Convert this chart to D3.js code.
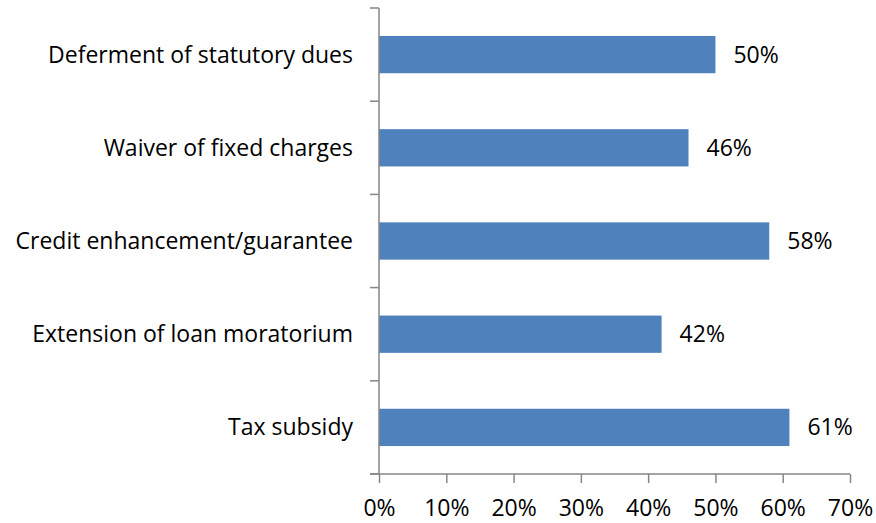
<!DOCTYPE html>
<html>
<head>
<meta charset="utf-8">
<script src="https://cdn.jsdelivr.net/npm/d3@7"></script>
<style>
  html, body { margin: 0; padding: 0; background: #fff; }
  svg { display: block; }
  text { font-family: "Open Sans", "Liberation Sans", sans-serif; fill: #000; }
</style>
</head>
<body>
<svg id="chart" width="876" height="523"></svg>
<script>
// Relief measures and share of respondents asking for each
const categories = [
  "Deferment of statutory dues",
  "Waiver of fixed charges",
  "Credit enhancement/guarantee",
  "Extension of loan moratorium",
  "Tax subsidy"
];
const values = [50, 46, 58, 42, 61];
const tickValues = [0, 10, 20, 30, 40, 50, 60, 70];

const svg = d3.select("#chart");
const margin = { left: 379, right: 26, top: 8, bottom: 49 };
const W = 876, H = 523;

const x = d3.scaleLinear().domain([0, 70]).range([margin.left, W - margin.right]);
const y = d3.scaleBand().domain(categories).range([margin.top, H - margin.bottom]).paddingInner(0.6).paddingOuter(0.3);
const band = d3.scaleBand().domain(categories).range([margin.top, H - margin.bottom]);

const axisColor = "#868686";
const fontSize = 23;

// bars
svg.append("g").selectAll("rect").data(categories).join("rect")
  .attr("x", x(0))
  .attr("y", d => y(d))
  .attr("width", (d, i) => x(values[i]) - x(0))
  .attr("height", y.bandwidth())
  .attr("fill", "#4F81BD");

// value labels
svg.append("g").selectAll("text").data(categories).join("text")
  .attr("x", (d, i) => x(values[i]) + 18)
  .attr("y", d => y(d) + y.bandwidth() / 2)
  .attr("dy", "0.35em")
  .style("font-size", fontSize + "px")
  .text((d, i) => values[i] + "%");

// category axis: vertical line with ticks at band boundaries
const yAxis = svg.append("g");
yAxis.append("line")
  .attr("x1", x(0)).attr("x2", x(0))
  .attr("y1", margin.top).attr("y2", H - margin.bottom)
  .attr("stroke", axisColor).attr("stroke-width", 1.5);
const boundaries = categories.map(c => band(c)).concat([H - margin.bottom]);
yAxis.selectAll("line.tick").data(boundaries).join("line")
  .attr("class", "tick")
  .attr("x1", x(0) - 9).attr("x2", x(0))
  .attr("y1", d => d).attr("y2", d => d)
  .attr("stroke", axisColor).attr("stroke-width", 1.5);
yAxis.selectAll("text").data(categories).join("text")
  .attr("x", x(0) - 26)
  .attr("y", d => band(d) + band.bandwidth() / 2)
  .attr("dy", "0.35em")
  .attr("text-anchor", "end")
  .style("font-size", fontSize + "px")
  .text(d => d);

// value axis along the bottom
const xAxis = d3.axisBottom(x)
  .tickValues(tickValues)
  .tickFormat(d => d + "%")
  .tickSize(9)
  .tickPadding(17);
const gx = svg.append("g")
  .attr("transform", `translate(0,${H - margin.bottom})`)
  .call(xAxis);
gx.select(".domain").attr("stroke", axisColor).attr("stroke-width", 1.5)
  .attr("d", `M${x(0) - 9},0H${x(70)}`);
gx.selectAll(".tick line").attr("stroke", axisColor).attr("stroke-width", 1.5);
gx.selectAll(".tick text")
  .style("font-size", fontSize + "px")
  .style("font-family", "\"Open Sans\", \"Liberation Sans\", sans-serif")
  .attr("fill", "#000");
</script>
</body>
</html>
